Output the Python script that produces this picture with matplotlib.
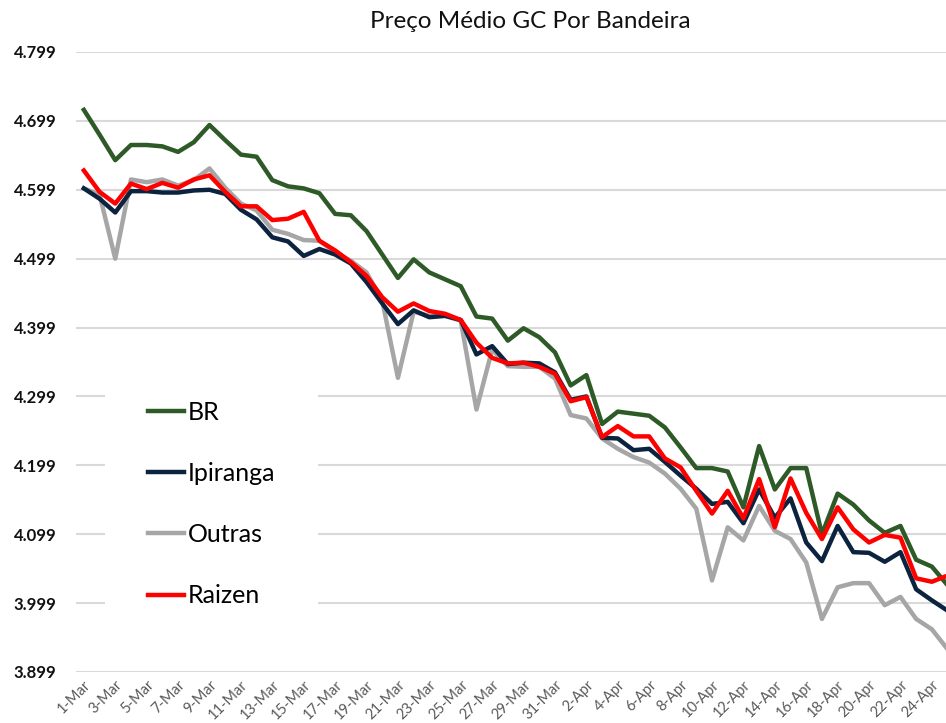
import matplotlib
matplotlib.use("Agg")
import matplotlib.pyplot as plt
import numpy as np

# dias 1-Mar .. 25-Apr
tick_labels = ["1-Mar", "3-Mar", "5-Mar", "7-Mar", "9-Mar", "11-Mar", "13-Mar",
               "15-Mar", "17-Mar", "19-Mar", "21-Mar", "23-Mar", "25-Mar",
               "27-Mar", "29-Mar", "31-Mar", "2-Apr", "4-Apr", "6-Apr", "8-Apr",
               "10-Apr", "12-Apr", "14-Apr", "16-Apr", "18-Apr", "20-Apr",
               "22-Apr", "24-Apr"]

br = [4.715, 4.679, 4.642, 4.664, 4.664, 4.662, 4.654, 4.668, 4.693, 4.671,
      4.650, 4.647, 4.613, 4.604, 4.601, 4.594, 4.564, 4.562, 4.539, 4.505,
      4.471, 4.498, 4.479, 4.469, 4.459, 4.415, 4.412, 4.380, 4.398, 4.385,
      4.363, 4.315, 4.330, 4.259, 4.277, 4.274, 4.271, 4.254, 4.225, 4.195,
      4.195, 4.190, 4.138, 4.227, 4.164, 4.195, 4.195, 4.099, 4.158, 4.142,
      4.119, 4.101, 4.111, 4.062, 4.052, 4.025]

ipiranga = [4.601, 4.586, 4.566, 4.597, 4.597, 4.595, 4.595, 4.598, 4.599, 4.593,
            4.570, 4.556, 4.530, 4.524, 4.503, 4.513, 4.505, 4.492, 4.465, 4.434,
            4.404, 4.424, 4.414, 4.416, 4.410, 4.360, 4.372, 4.346, 4.348, 4.347,
            4.334, 4.294, 4.299, 4.239, 4.238, 4.221, 4.223, 4.204, 4.184, 4.165,
            4.143, 4.146, 4.115, 4.164, 4.123, 4.151, 4.087, 4.060, 4.111, 4.073,
            4.072, 4.059, 4.073, 4.019, 4.003, 3.988]

outras = [4.601, 4.592, 4.499, 4.614, 4.610, 4.614, 4.605, 4.613, 4.630, 4.602,
          4.579, 4.569, 4.541, 4.535, 4.526, 4.525, 4.508, 4.496, 4.479, 4.438,
          4.326, 4.422, 4.416, 4.416, 4.409, 4.280, 4.367, 4.343, 4.342, 4.342,
          4.325, 4.272, 4.267, 4.238, 4.223, 4.211, 4.203, 4.187, 4.165, 4.136,
          4.032, 4.109, 4.090, 4.140, 4.104, 4.092, 4.058, 3.976, 4.022, 4.028,
          4.028, 3.996, 4.008, 3.976, 3.961, 3.932]

raizen = [4.627, 4.596, 4.579, 4.608, 4.600, 4.609, 4.602, 4.614, 4.620, 4.596,
          4.575, 4.575, 4.555, 4.557, 4.567, 4.525, 4.511, 4.494, 4.474, 4.443,
          4.422, 4.434, 4.423, 4.419, 4.410, 4.377, 4.355, 4.347, 4.348, 4.342,
          4.332, 4.292, 4.298, 4.240, 4.256, 4.241, 4.241, 4.209, 4.196, 4.162,
          4.129, 4.162, 4.122, 4.179, 4.109, 4.180, 4.130, 4.092, 4.138, 4.106,
          4.087, 4.098, 4.094, 4.035, 4.030, 4.039]

y_ticks = [3.899, 3.999, 4.099, 4.199, 4.299, 4.399, 4.499, 4.599, 4.699, 4.799]

plt.rcParams["font.family"] = ["Lato", "DejaVu Sans"]

W, H = 946, 723
fig = plt.figure(figsize=(W / 100, H / 100), dpi=100)
ax = fig.add_axes([76 / W, 1 - 672 / H, 1 - 76 / W, (672 - 52) / H])

x = np.arange(len(br))
ax.plot(x, outras, color="#a6a6a6", lw=3.2, label="Outras", zorder=3)
ax.plot(x, ipiranga, color="#0c2340", lw=3.2, label="Ipiranga", zorder=4)
ax.plot(x, br, color="#2e5a27", lw=3.2, label="BR", zorder=3.5)
ax.plot(x, raizen, color="#ff0000", lw=3.2, label="Raizen", zorder=5)

ax.set_xlim(-0.5, 54.9)
ax.set_ylim(3.899, 4.799)
ax.set_yticks(y_ticks)
ax.set_yticklabels([f"{v:.3f}" for v in y_ticks], fontsize=12,
                   fontweight="bold", color="#111111")
ax.set_xticks(x[::2])
ax.set_xticklabels(tick_labels, fontsize=10.5, color="#595959",
                   rotation=45, ha="right", va="top", rotation_mode="anchor")
ax.tick_params(axis="both", length=0)
ax.tick_params(axis="y", pad=14)
ax.tick_params(axis="x", pad=4)

ax.grid(axis="y", color="#d9d9d9", lw=1.5, zorder=0)
ax.set_axisbelow(True)
for s in ax.spines.values():
    s.set_visible(False)

handles, labels = ax.get_legend_handles_labels()
order = [labels.index(n) for n in ["BR", "Ipiranga", "Outras", "Raizen"]]
leg = ax.legend([handles[i] for i in order], [labels[i] for i in order],
                loc="upper left", bbox_to_anchor=(105 / W, 1 - 358 / H),
                bbox_transform=fig.transFigure, borderaxespad=0,
                borderpad=1.7, fontsize=18, frameon=True, fancybox=False,
                framealpha=1, edgecolor="none", facecolor="white",
                handlelength=1.45, handletextpad=0.15, labelspacing=1.53)
leg.set_zorder(10)

fig.text(530 / W, 1 - 22 / H, "Preço Médio GC Por Bandeira", ha="center",
         va="center", fontsize=17.5, color="#111111")

fig.savefig("out.png", dpi=100)
plt.close(fig)
